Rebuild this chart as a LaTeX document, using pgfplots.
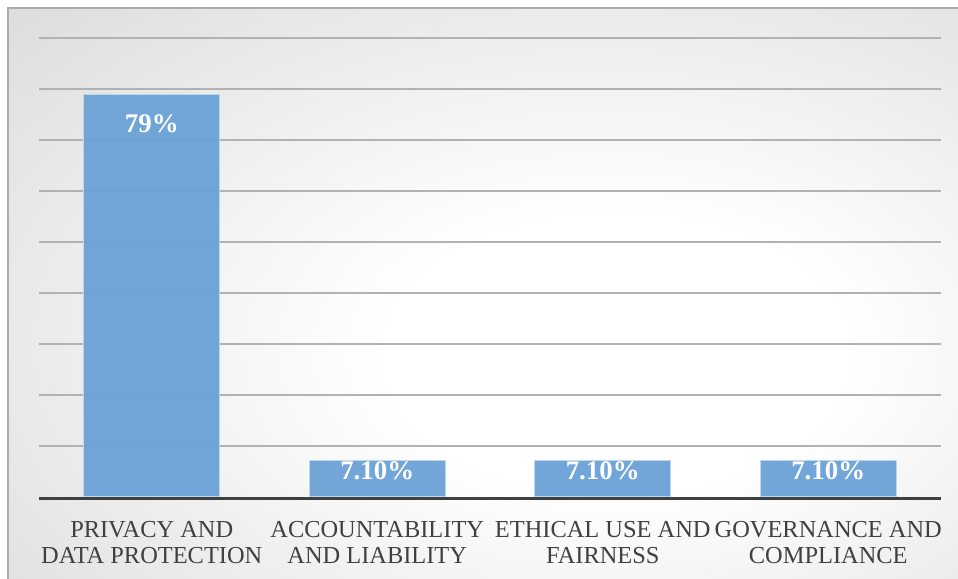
\documentclass[border=0pt]{standalone}
\usepackage{fontspec}
\setmainfont{Liberation Serif}
\usepackage{pgfplots}
\pgfplotsset{compat=1.18}
\definecolor{barblue}{RGB}{106,161,214}
\definecolor{baredge}{RGB}{189,215,238}
\definecolor{lbl}{RGB}{64,64,64}
\pgfdeclareradialshading{bgshade}{\pgfpoint{8bp}{-6bp}}{color(0bp)=(white); color(12bp)=(white); color(64bp)=(gray!48); color(100bp)=(gray!48)}
\begin{document}
\begin{tikzpicture}
\useasboundingbox (0,0) rectangle (958bp,579bp);
\fill[white] (0,0) rectangle (958bp,579bp);
\shade[shading=bgshade] (8bp,0) rectangle (958bp,571bp);
\draw[gray!65, line width=1.5bp] (8bp,0) -- (8bp,571bp) -- (958bp,571bp);
\begin{axis}[
  at={(39bp,82bp)}, anchor=south west,
  scale only axis, width=902bp, height=459bp,
  xmin=-0.5, xmax=3.5, ymin=0, ymax=90,
  ytick={10,20,...,90}, yticklabels={},
  ymajorgrids, grid style={gray!60, line width=1.2bp},
  axis line style={draw=none},
  major tick length=0pt,
  tick style={draw=none},
  xtick={0,1,2,3},
  xticklabels={{PRIVACY AND\\DATA PROTECTION},{ACCOUNTABILITY\\AND LIABILITY},{ETHICAL USE AND\\FAIRNESS},{GOVERNANCE AND\\COMPLIANCE}},
  xticklabel style={align=center, font=\fontsize{24.5}{26}\selectfont, text=lbl, inner sep=0pt, anchor=north, yshift=-24bp},
  clip=false,
]
\addplot[ybar, fill=barblue, fill opacity=0.94, draw=baredge, line width=1bp,
  bar width=136bp, bar shift=0pt, point meta=explicit symbolic,
  nodes near coords,
  nodes near coords style={anchor=base, yshift=-38bp, opacity=1, text opacity=1, text=white, font=\bfseries\fontsize{27}{27}\selectfont}]
  coordinates {(0,79) [79\%]};
\addplot[ybar, fill=barblue, fill opacity=0.94, draw=baredge, line width=1bp,
  bar width=136bp, bar shift=0pt, point meta=explicit symbolic,
  nodes near coords,
  nodes near coords style={anchor=base, yshift=-19bp, opacity=1, text opacity=1, text=white, font=\bfseries\fontsize{27}{27}\selectfont}]
  coordinates {(1,7.1) [7.10\%] (2,7.1) [7.10\%] (3,7.1) [7.10\%]};
\draw[lbl, line width=3.5bp] ([yshift=-1.5bp]axis cs:-0.5,0) -- ([yshift=-1.5bp]axis cs:3.5,0);
\end{axis}
\end{tikzpicture}
\end{document}
